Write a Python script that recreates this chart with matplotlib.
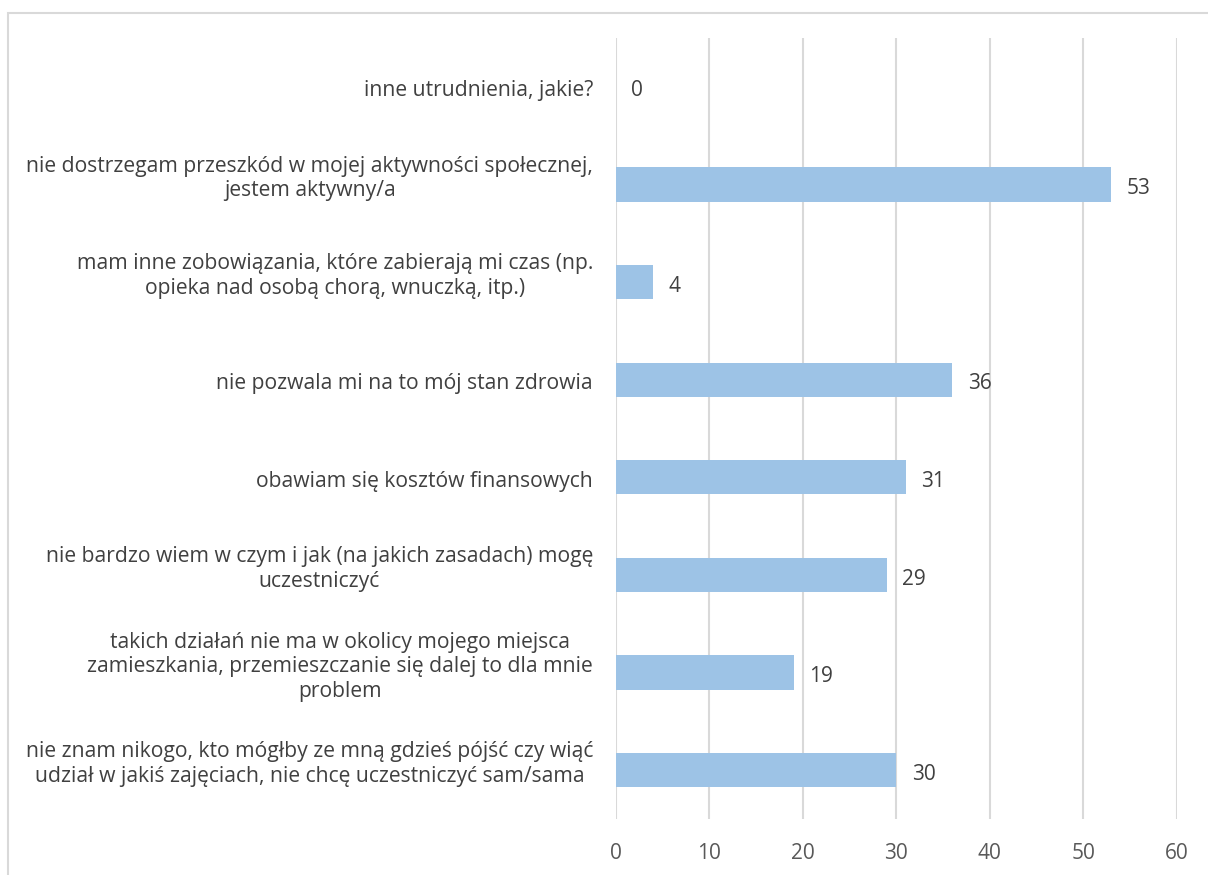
import matplotlib.pyplot as plt
import matplotlib.patches as patches
import matplotlib.transforms as mtransforms

labels = [
    "nie znam nikogo, kto mógłby ze mną gdzieś pójść czy wiąć\nudział w jakiś zajęciach, nie chcę uczestniczyć sam/sama",
    "takich działań nie ma w okolicy mojego miejsca\nzamieszkania, przemieszczanie się dalej to dla mnie\nproblem",
    "nie bardzo wiem w czym i jak (na jakich zasadach) mogę\nuczestniczyć",
    "obawiam się kosztów finansowych",
    "nie pozwala mi na to mój stan zdrowia",
    "mam inne zobowiązania, które zabierają mi czas (np.\nopieka nad osobą chorą, wnuczką, itp.)",
    "nie dostrzegam przeszkód w mojej aktywności społecznej,\njestem aktywny/a",
    "inne utrudnienia, jakie?",
]
values = [30, 19, 29, 31, 36, 4, 53, 0]
ticks = [0, 10, 20, 30, 40, 50, 60]

plt.rcParams['font.family'] = ['Open Sans', 'DejaVu Sans']

fig = plt.figure(figsize=(12.08, 8.75), dpi=100)
ax = fig.add_axes([0.51, 0.064, 0.464, 0.8926])

y = range(len(values))
ax.barh(y, values, height=0.35, color='#9DC3E6', zorder=3)
for yi, v in zip(y, values):
    ax.annotate(str(v), (v, yi), xytext=(11, -3), textcoords='offset points',
                va='center', ha='left', fontsize=15, color='#404040')

ax.set_xlim(0, 60)
ax.set_ylim(-0.5, len(values) - 0.5)
ax.set_xticks(ticks)
ax.set_yticks(list(y))
ax.set_yticklabels([])
ax.tick_params(axis='x', labelsize=15, labelcolor='#595959', length=0, pad=17)
ax.tick_params(axis='y', length=0)
ax.grid(axis='x', color='#D9D9D9', linewidth=1.5, zorder=0)
for s in ax.spines.values():
    s.set_visible(False)

# category labels: multi-line ones sit a bit higher, like in the original
base = mtransforms.blended_transform_factory(ax.transAxes, ax.transData)
for yi, lab in zip(y, labels):
    up = 0.06 if '\n' in lab else -0.04
    tr = base + mtransforms.ScaledTranslation(-0.23, up, fig.dpi_scale_trans)
    ax.text(0, yi, lab, transform=tr, ha='right', va='center', multialignment='center',
            fontsize=15.2, color='#404040', linespacing=1.22)

fig.patches.append(patches.Rectangle((8 / 1208, -0.1), 1.2, 1 - 13 / 875 + 0.1,
                                     transform=fig.transFigure, fill=False,
                                     edgecolor='#D9D9D9', linewidth=1.5))

fig.savefig('out.png', dpi=100)
